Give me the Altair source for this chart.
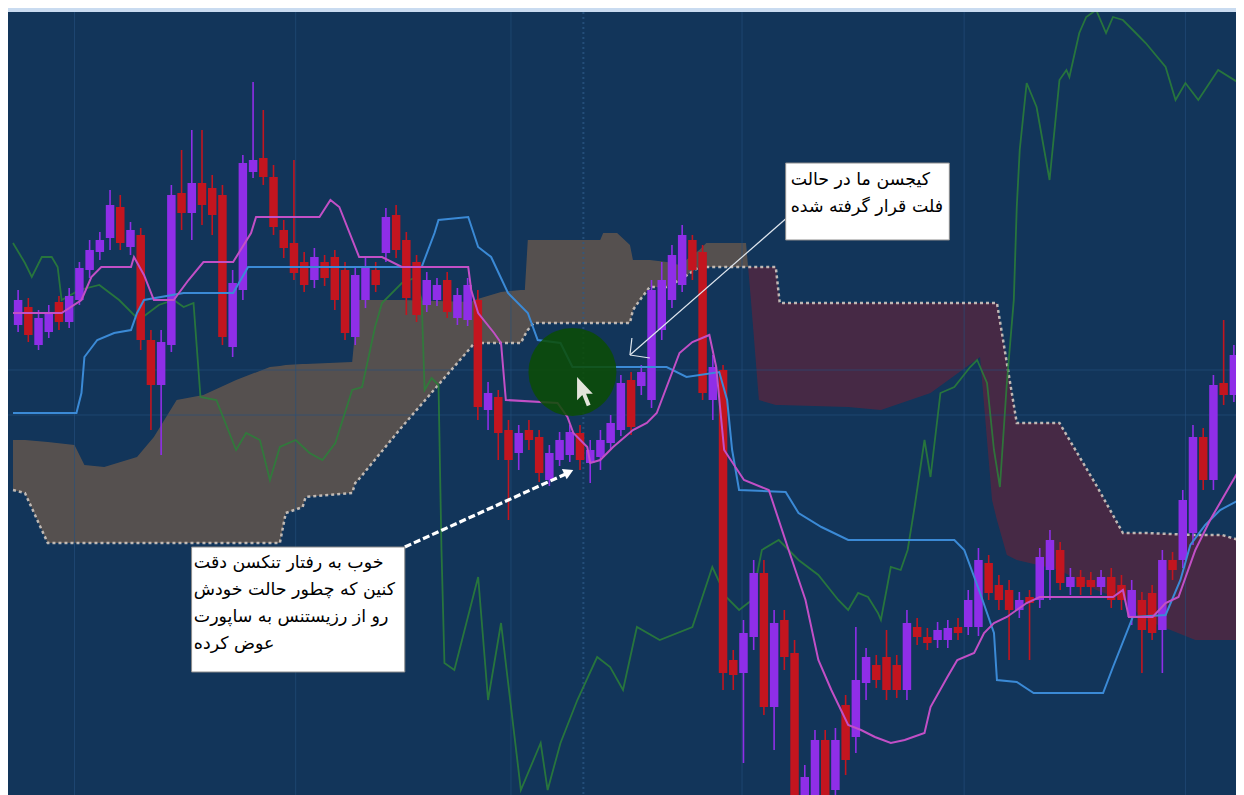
import altair as alt
import pandas as pd

W, H = 1228, 783
X_DOMAIN = [-0.5, 118.72]
Y_DOMAIN = [0, 783]

# ---------------- candles (price units) ----------------
opens = [470, 488, 450, 463, 493, 473, 495, 525, 543, 557, 588, 548, 560, 455, 410, 450, 602, 582, 612, 607,
         600, 448, 505, 623, 637, 618, 565, 552, 533, 515, 533, 538, 525, 458, 495, 525, 542, 580, 555, 533,
         490, 495, 515, 477, 475, 495, 385, 398, 365, 342, 365, 358, 315, 335, 340, 362, 332, 338, 352, 365,
         415, 409, 395, 465, 495, 510, 555, 543, 395, 425, 135, 122, 158, 222, 88, 175, 142, -5, -5, 55,
         5, 90, 58, 112, 130, 138, 130, 105, 168, 158, 155, 155, 168, 168, 168, 232, 210, 205, 185, 198,
         195, 225, 245, 208, 218, 215, 208, 218, 210, 178, 195, 202, 165, 235, 235, 262, 358, 315, 412, 400]
highs = [505, 497, 485, 490, 499, 507, 533, 555, 563, 605, 600, 573, 567, 465, 465, 610, 645, 665, 665, 620,
         610, 525, 640, 713, 685, 630, 575, 635, 543, 547, 540, 545, 533, 527, 537, 533, 587, 590, 563, 540,
         523, 517, 523, 507, 517, 505, 413, 405, 375, 370, 375, 365, 350, 363, 370, 370, 355, 365, 380, 420,
         423, 430, 515, 533, 550, 570, 560, 550, 440, 430, 145, 175, 235, 235, 185, 185, 155, 30, 65, 65,
         67, 100, 168, 147, 140, 165, 140, 185, 177, 167, 173, 175, 177, 205, 247, 240, 220, 215, 203, 205,
         247, 265, 253, 227, 225, 223, 225, 227, 220, 215, 203, 210, 245, 243, 305, 370, 367, 420, 475, 450]
lows = [463, 453, 445, 457, 465, 467, 490, 517, 535, 545, 545, 540, 445, 365, 340, 443, 565, 555, 570, 560,
        450, 438, 495, 617, 610, 560, 537, 515, 503, 507, 509, 485, 455, 450, 487, 503, 533, 537, 480, 473,
        483, 489, 477, 470, 469, 375, 365, 335, 275, 325, 345, 313, 309, 329, 333, 325, 312, 325, 345, 359,
        360, 400, 387, 455, 487, 503, 515, 395, 375, 105, 105, 32, 145, 80, 45, 125, -10, -10, -10, -10,
        -5, 20, 42, 95, 107, 95, 97, 95, 150, 145, 147, 147, 155, 160, 159, 195, 185, 135, 177, 135,
        187, 195, 205, 200, 200, 200, 200, 187, 185, 170, 122, 155, 122, 215, 227, 250, 305, 305, 390, 393]
closes = [495, 460, 477, 483, 473, 499, 527, 545, 555, 590, 552, 565, 455, 410, 453, 600, 582, 612, 590, 580,
          458, 512, 632, 635, 618, 568, 547, 522, 510, 538, 517, 495, 462, 520, 528, 510, 578, 545, 497, 480,
          515, 510, 483, 500, 510, 388, 402, 362, 335, 362, 355, 322, 342, 355, 363, 335, 345, 355, 372, 412,
          368, 423, 505, 515, 540, 560, 525, 402, 428, 122, 120, 162, 222, 88, 172, 138, -5, 18, 55, -5,
          55, 35, 115, 138, 115, 105, 105, 172, 158, 152, 165, 167, 162, 195, 235, 202, 195, 185, 195, 192,
          238, 255, 212, 218, 208, 208, 218, 195, 195, 205, 165, 162, 235, 225, 295, 358, 315, 410, 400, 440]

# ---------------- ichimoku cloud (senkou A / senkou B) ----------------
cloud_x = [-0.5, 0.67, 2.9, 5.52, 6.49, 8.43, 11.64, 13.29, 15.52, 18.14, 21.34, 24.65, 25.62, 26.2, 27.85,
           28.14, 32.7, 33.0, 33.29, 37.56, 44.35, 44.65, 47.27, 49.21, 49.6, 49.89, 50.47, 56.98, 57.27,
           58.63, 59.89, 60.18, 60.86, 61.83, 63.48, 64.74, 66.68, 67.36, 71.25, 71.73, 72.51, 74.16, 74.55,
           81.25, 84.45, 89.31, 94.16, 95.33, 95.81, 96.78, 97.75, 101.93, 105.52, 108.14, 110.37, 115.23,
           117.85, 119.5]
span_a = [355, 355, 353, 350, 330, 328, 338, 358, 395, 400, 415, 428, 429, 430, 431, 431, 433, 465, 495, 495,
          493, 495, 503, 505, 505, 555, 555, 555, 562, 562, 550, 535, 535, 535, 533, 530, 545, 552, 552, 495,
          395, 390, 390, 388, 385, 402, 438, 295, 275, 240, 235, 225, 205, 195, 175, 155, 155, 155]
span_b = [305, 302, 252, 252, 252, 252, 252, 252, 252, 252, 252, 252, 252, 282, 288, 298, 302, 312, 315, 368,
          448, 452, 452, 452, 460, 465, 472, 472, 472, 472, 472, 485, 495, 508, 508, 515, 528, 528, 528, 528,
          528, 528, 492, 492, 492, 492, 492, 492, 492, 432, 372, 372, 310, 262, 262, 260, 260, 255]

# ---------------- indicator lines ----------------
kijun_x = [-0.5, 5.71, 6.2, 6.49, 7.75, 9.4, 11.05, 11.64, 12.32, 16.2, 21.05, 22.51, 39.5, 40.76, 41.15,
           44.06, 45.03, 46.3, 47.95, 49.89, 50.86, 53.09, 54.26, 63.48, 65.42, 68.63, 69.4, 69.89, 70.57,
           75.13, 76.39, 78.63, 81.25, 91.64, 92.61, 94.16, 95.52, 95.81, 97.75, 99.4, 106.2, 107.17, 109.11,
           112.32, 113.77, 114.74, 116.2, 117.66, 119.5]
kijun_y = [382, 382, 402, 438, 455, 462, 465, 482, 495, 502, 502, 528, 528, 562, 575, 578, 548, 538, 502, 482,
           455, 452, 428, 428, 418, 423, 395, 345, 305, 303, 282, 268, 255, 255, 245, 202, 162, 115, 113, 102,
           102, 128, 178, 180, 215, 250, 270, 285, 295]

tenkan_x = [-0.5, 4.26, 6.2, 7.17, 8.14, 11.05, 11.34, 12.32, 13.29, 15.23, 16.68, 18.14, 21.05, 22.8, 23.29,
            29.5, 30.57, 31.44, 33.38, 35.62, 37.56, 44.06, 44.35, 45.03, 46.59, 47.27, 47.74, 52.8, 53.77,
            54.35, 55.71, 56.0, 56.98, 58.24, 60.18, 61.54, 62.51, 64.74, 66.0, 67.66, 68.33, 69.11, 71.05,
            73.48, 75.42, 77.07, 78.33, 79.6, 81.25, 82.51, 83.87, 85.42, 86.78, 88.72, 89.31, 90.96, 91.93,
            93.58, 94.55, 95.52, 96.78, 98.72, 99.99, 107.17, 108.14, 108.72, 111.05, 112.32, 113.58, 115.23,
            116.68, 119.5]
tenkan_y = [482, 482, 495, 518, 528, 528, 538, 520, 495, 495, 515, 533, 533, 562, 578, 578, 595, 588, 538, 538,
            528, 528, 505, 482, 462, 452, 395, 392, 378, 362, 348, 332, 335, 348, 365, 372, 382, 442, 453, 460,
            428, 345, 315, 305, 245, 195, 135, 105, 70, 65, 58, 52, 55, 62, 88, 118, 135, 142, 162, 172, 178,
            192, 198, 198, 205, 178, 178, 192, 198, 245, 275, 325]

chikou_x = [-0.5, 0.67, 1.34, 2.32, 3.29, 3.87, 4.26, 6.0, 7.95, 9.89, 11.83, 13.77, 15.23, 16.2, 17.17, 17.85,
            19.4, 21.34, 22.32, 23.67, 24.65, 25.62, 27.17, 28.53, 29.79, 31.05, 32.7, 33.67, 34.94, 35.62,
            37.56, 38.82, 39.5, 39.79, 40.47, 41.15, 41.44, 41.73, 42.7, 45.03, 46.0, 47.27, 49.21, 51.15,
            51.83, 53.09, 54.74, 56.68, 57.95, 59.21, 60.57, 62.8, 66.0, 67.95, 69.31, 70.57, 71.83, 72.8,
            74.45, 76.39, 78.33, 80.28, 81.25, 82.22, 83.19, 84.16, 84.45, 85.13, 85.42, 86.39, 87.07, 87.75,
            88.72, 89.31, 90.28, 91.64, 93.19, 93.87, 94.84, 95.52, 96.1, 96.78, 97.46, 97.75, 98.04, 98.72,
            99.69, 100.96, 101.93, 102.61, 102.9, 103.87, 104.55, 105.52, 106.49, 107.17, 108.14, 109.4,
            110.37, 112.32, 113.29, 114.26, 115.52, 117.46, 119.5]
chikou_y = [552, 532, 518, 538, 538, 528, 495, 505, 510, 495, 475, 490, 495, 488, 492, 398, 395, 345, 362, 355,
            315, 348, 355, 342, 335, 352, 405, 408, 468, 492, 512, 517, 495, 405, 417, 410, 245, 132, 125, 218,
            95, 172, 5, 52, 5, 52, 95, 138, 128, 105, 168, 155, 168, 228, 198, 185, 195, 245, 255, 235, 220,
            195, 185, 202, 198, 182, 175, 212, 228, 225, 245, 288, 355, 318, 402, 408, 428, 435, 412, 345, 308,
            412, 495, 588, 645, 712, 688, 615, 715, 725, 718, 762, 778, 785, 762, 778, 775, 762, 752, 728, 695,
            712, 695, 725, 712]

# faint chart grid (bar index / price)
grid_x = [5.52, 27.17, 48.24, 70.86, 92.6, 114.26]
grid_y = [425, 380]
session_x = [55.33]

# ---------------- annotations ----------------
note_top_lines = ["کیجسن ما در حالت", "فلت قرار گرفته شده"]
note_bottom_lines = ["خوب به رفتار تنکسن دقت", "کنین که چطور حالت خودش", "رو از رزیستنس به ساپورت", "عوض کرده"]

xs = alt.Scale(domain=X_DOMAIN, nice=False, zero=False)
ys = alt.Scale(domain=Y_DOMAIN, nice=False, zero=False)


def X(f):
    return alt.X(f"{f}:Q", scale=xs, axis=None)


def Y(f):
    return alt.Y(f"{f}:Q", scale=ys, axis=None, stack=None)


# candles
cdf = pd.DataFrame({"i": list(range(len(opens))), "o": opens, "h": highs, "l": lows, "c": closes})
cdf["up"] = [1 if c > o else 0 for o, c in zip(opens, closes)]


def candle_layers(flag, color):
    base = alt.Chart(cdf).transform_filter(alt.datum.up == flag)
    w = base.mark_rule(strokeWidth=1.6, clip=True, color=color).encode(x=X("i"), y=Y("l"), y2=alt.Y2("h"))
    b = base.mark_bar(width=8.5, clip=True, color=color).encode(x=X("i"), y=Y("o"), y2=alt.Y2("c"))
    return w, b


up_w, up_b = candle_layers(1, "#8f2ee8")
dn_w, dn_b = candle_layers(0, "#c3151f")

# cloud segments, split where span A crosses span B
rows = []
seg = 0
prev = None
for k in range(len(cloud_x)):
    s = span_a[k] >= span_b[k]
    if prev is not None and s != prev:
        d0 = span_a[k - 1] - span_b[k - 1]
        d1 = span_a[k] - span_b[k]
        t = d0 / (d0 - d1)
        xc = cloud_x[k - 1] + t * (cloud_x[k] - cloud_x[k - 1])
        yc = span_a[k - 1] + t * (span_a[k] - span_a[k - 1])
        rows.append({"x": xc, "a": yc, "b": yc, "seg": seg, "bull": 1 if prev else 0})
        seg += 1
        rows.append({"x": xc, "a": yc, "b": yc, "seg": seg, "bull": 1 if s else 0})
    rows.append({"x": cloud_x[k], "a": span_a[k], "b": span_b[k], "seg": seg, "bull": 1 if s else 0})
    prev = s
cloud_df = pd.DataFrame(rows)


def cloud_layer(flag, color):
    return alt.Chart(cloud_df).transform_filter(alt.datum.bull == flag).mark_area(
        clip=True, color=color, opacity=0.95).encode(x=X("x"), y=Y("a"), y2=alt.Y2("b"), detail="seg:N")


cloud_bull = cloud_layer(1, "#5a524f")
cloud_bear = cloud_layer(0, "#4a2944")
span_b_line = alt.Chart(pd.DataFrame({"x": cloud_x, "b": span_b})).mark_line(
    clip=True, strokeDash=[3, 3], strokeWidth=2.5, color="#cfc7bf", opacity=0.9).encode(x=X("x"), y=Y("b"))

grid_v = alt.Chart(pd.DataFrame({"g": grid_x})).mark_rule(color="#24507e", strokeWidth=1, opacity=0.6).encode(x=X("g"))
grid_h = alt.Chart(pd.DataFrame({"g": grid_y})).mark_rule(color="#24507e", strokeWidth=1, opacity=0.6).encode(y=Y("g"))
session = alt.Chart(pd.DataFrame({"g": session_x})).mark_rule(
    color="#2c5a88", strokeWidth=2, strokeDash=[2, 3], opacity=0.7).encode(x=X("g"))


def line(xv, yv, color, width, opacity=1.0):
    return alt.Chart(pd.DataFrame({"x": xv, "y": yv})).mark_line(
        clip=True, color=color, strokeWidth=width, opacity=opacity).encode(x=X("x"), y=Y("y"))


chikou = line(chikou_x, chikou_y, "#2c8038", 1.8, 0.85)
kijun = line(kijun_x, kijun_y, "#3b8ad6", 2)
tenkan = line(tenkan_x, tenkan_y, "#c24fc6", 2)

# highlight circle + cursor
spot = alt.Chart(pd.DataFrame({"x": [54.26], "y": [423]})).mark_circle(
    size=7744, color="#0c4d03", opacity=0.86).encode(x=X("x"), y=Y("y"))
cursor_path = "M-0.55,-1 L-0.55,0.55 L-0.2,0.2 L0.1,0.95 L0.35,0.85 L0.05,0.12 L0.5,0.12 Z"
cursor = alt.Chart(pd.DataFrame({"x": [55.52], "y": [403]})).mark_point(
    shape=cursor_path, filled=True, size=900, color="#e4e4dc", opacity=1).encode(x=X("x"), y=Y("y"))

# thin arrow to the flat kijun
thin_df = pd.DataFrame({"x": [75.23, 59.89, 59.89], "y": [577, 440, 440],
                        "x2": [59.89, 60.08, 61.83], "y2": [440, 457, 437]})
thin_arrow = alt.Chart(thin_df).mark_rule(color="#dfe6ee", strokeWidth=1.2).encode(
    x=X("x"), y=Y("y"), x2=alt.X2("x2"), y2=alt.Y2("y2"))

# thick dashed arrow to tenkan
thick_df = pd.DataFrame({"x": [37.85], "y": [248], "x2": [53.6], "y2": [321]})
thick_arrow = alt.Chart(thick_df).mark_rule(color="white", strokeWidth=3.2, strokeDash=[7, 3]).encode(
    x=X("x"), y=Y("y"), x2=alt.X2("x2"), y2=alt.Y2("y2"))
thick_head = alt.Chart(pd.DataFrame({"x": [53.9], "y": [323]})).mark_point(
    shape="triangle-right", filled=True, size=130, angle=335, color="white", opacity=1).encode(x=X("x"), y=Y("y"))

# note boxes
boxes_df = pd.DataFrame({"x": [75.13, 16.98], "x2": [91.15, 37.85], "y": [555, 123], "y2": [632, 248]})
boxes = alt.Chart(boxes_df).mark_rect(fill="white", stroke="#8c8c8c", strokeWidth=1).encode(
    x=X("x"), x2=alt.X2("x2"), y=Y("y"), y2=alt.Y2("y2"))

txt_df = pd.DataFrame({
    "x": [75.62] * len(note_top_lines) + [17.2] * len(note_bottom_lines),
    "y": [615, 588] + [232, 205, 178, 151],
    "t": note_top_lines + note_bottom_lines,
})
texts = alt.Chart(txt_df).mark_text(
    align="left", baseline="middle", font="DejaVu Sans", fontSize=17.4, color="#000000").encode(
    x=X("x"), y=Y("y"), text="t:N")

chart = alt.layer(
    cloud_bull, cloud_bear, grid_v, grid_h, session, span_b_line, chikou,
    up_w, dn_w, up_b, dn_b, kijun, tenkan,
    spot, cursor, thin_arrow, thick_arrow, thick_head, boxes, texts
).properties(
    width=W, height=H, background="#c9dbf0",
    padding={"left": 0, "top": 4, "right": 0, "bottom": 0},
    autosize=alt.AutoSizeParams(type="none"),
).configure_view(fill="#12355a", stroke="transparent", strokeWidth=0)

chart.save("out.html", embed_options={"renderer": "svg", "actions": False})
